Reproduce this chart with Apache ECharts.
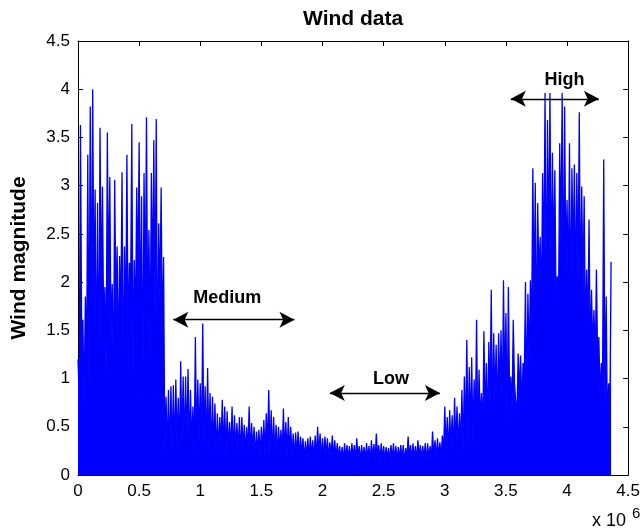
<!DOCTYPE html>
<html>
<head>
<meta charset="utf-8">
<title>Wind data</title>
<script src="https://cdn.jsdelivr.net/npm/echarts@6/dist/echarts.min.js"></script>
<style>
  html, body { margin: 0; padding: 0; background: #fff; }
  #chart { width: 643px; height: 530px; }
</style>
</head>
<body>
<div id="chart"></div>
<script>
// sample spacing along x, in units of 10^6
const STEP = 0.02;

// upper envelope of the wind signal, one value per STEP (rows of 0.1 x 10^6)
const peaks = [
  1.20, 3.63, 1.61, 1.85, 3.32,
  3.82, 4.00, 2.96, 2.82, 3.60,
  2.99, 1.95, 3.55, 3.09, 1.98,
  3.06, 2.37, 2.27, 3.14, 2.37,
  3.32, 2.20, 3.64, 2.23, 2.98,
  3.45, 2.89, 3.13, 3.71, 2.54,
  3.13, 3.47, 3.69, 2.61, 2.98,
  2.26, 0.81, 0.88, 0.92, 0.93,
  0.99, 0.80, 1.18, 1.02, 1.02,
  1.10, 0.88, 0.71, 1.43, 0.99,
  0.95, 1.57, 0.92, 1.11, 0.85,
  0.81, 0.74, 0.64, 0.60, 0.78,
  0.71, 0.66, 0.55, 0.71, 0.62,
  0.54, 0.60, 0.60, 0.52, 0.50,
  0.71, 0.54, 0.50, 0.45, 0.47,
  0.50, 0.57, 0.64, 0.88, 0.67,
  0.60, 0.52, 0.50, 0.47, 0.69,
  0.55, 0.60, 0.50, 0.43, 0.44,
  0.45, 0.40, 0.38, 0.35, 0.38,
  0.40, 0.36, 0.41, 0.50, 0.43,
  0.38, 0.40, 0.38, 0.34, 0.41,
  0.36, 0.33, 0.30, 0.29, 0.33,
  0.31, 0.30, 0.33, 0.31, 0.38,
  0.30, 0.31, 0.29, 0.33, 0.30,
  0.36, 0.32, 0.43, 0.31, 0.33,
  0.30, 0.29, 0.28, 0.31, 0.33,
  0.30, 0.29, 0.31, 0.31, 0.28,
  0.40, 0.31, 0.33, 0.30, 0.36,
  0.31, 0.30, 0.33, 0.33, 0.30,
  0.45, 0.36, 0.38, 0.34, 0.41,
  0.71, 0.60, 0.67, 0.62, 0.80,
  0.71, 0.64, 0.88, 1.02, 1.40,
  1.12, 1.22, 0.99, 1.61, 1.09,
  0.85, 1.49, 1.16, 1.38, 1.92,
  1.47, 1.35, 1.47, 1.50, 2.02,
  1.68, 1.95, 1.02, 1.61, 0.95,
  1.26, 1.24, 1.16, 2.00, 1.88,
  2.02, 3.18, 3.03, 2.82, 2.47,
  3.13, 3.96, 3.68, 3.96, 3.34,
  3.16, 2.06, 3.44, 3.96, 3.82,
  2.85, 3.44, 3.18, 3.22, 3.13,
  3.76, 2.99, 2.89, 2.13, 2.65,
  1.92, 1.71, 2.13, 1.43, 1.16,
  3.27, 1.85, 0.95, 2.21
];

// top of the solid core between two peaks, one value per STEP (same rows)
const troughs = [
  0.80, 1.50, 0.70, 1.10, 0.90,
  1.40, 1.80, 0.90, 0.70, 1.80,
  1.50, 1.00, 1.90, 1.40, 0.90,
  1.70, 1.10, 1.60, 0.80, 1.50,
  1.30, 1.80, 1.00, 1.50, 2.00,
  1.40, 0.70, 1.70, 1.50, 1.20,
  1.90, 1.60, 0.80, 1.80, 1.40,
  0.20, 0.22, 0.18, 0.25, 0.20,
  0.28, 0.20, 0.30, 0.25, 0.32,
  0.22, 0.30, 0.18, 0.28, 0.35,
  0.25, 0.30, 0.22, 0.28, 0.20,
  0.26, 0.18, 0.24, 0.30, 0.22,
  0.20, 0.26, 0.22, 0.18, 0.25,
  0.22, 0.18, 0.25, 0.20, 0.23,
  0.20, 0.24, 0.18, 0.22, 0.19,
  0.24, 0.20, 0.27, 0.22, 0.18,
  0.21, 0.18, 0.24, 0.20, 0.22,
  0.18, 0.22, 0.19, 0.16, 0.20,
  0.17, 0.20, 0.15, 0.18, 0.16,
  0.19, 0.15, 0.18, 0.20, 0.16,
  0.18, 0.20, 0.16, 0.19, 0.17,
  0.15, 0.18, 0.16, 0.14, 0.17,
  0.16, 0.14, 0.17, 0.15, 0.18,
  0.14, 0.16, 0.15, 0.17, 0.14,
  0.17, 0.15, 0.18, 0.14, 0.16,
  0.15, 0.17, 0.14, 0.16, 0.15,
  0.14, 0.16, 0.15, 0.13, 0.16,
  0.17, 0.14, 0.16, 0.15, 0.18,
  0.15, 0.17, 0.14, 0.16, 0.15,
  0.18, 0.16, 0.19, 0.17, 0.22,
  0.25, 0.20, 0.28, 0.22, 0.30,
  0.26, 0.32, 0.24, 0.38, 0.30,
  0.45, 0.35, 0.50, 0.30, 0.55,
  0.40, 0.60, 0.45, 0.70, 0.50,
  0.75, 0.55, 0.85, 0.60, 0.90,
  0.50, 0.80, 0.65, 0.95, 0.60,
  0.85, 0.70, 1.00, 0.75, 1.10,
  1.50, 1.80, 1.30, 2.00, 1.70,
  2.10, 1.60, 2.30, 1.90, 2.20,
  1.80, 1.70, 2.40, 1.70, 2.10,
  1.90, 1.60, 2.20, 1.80, 2.00,
  1.70, 1.90, 1.40, 1.50, 1.20,
  1.30, 1.10, 1.20, 0.80, 0.90,
  0.70, 0.50, 0.60, 0.40
];

// annotations: double arrows with a label above
const annoNames = ['Medium', 'Low', 'High'];
const annoFrom  = [0.78, 2.06, 3.54];
const annoTo    = [1.77, 2.96, 4.26];
const annoY     = [1.61, 0.85, 3.90];
const annoTextX = [1.22, 2.56, 3.98];
const annoTextY = [1.83, 1.00, 4.10];

const xTicks = { min: 0, max: 4.5, interval: 0.5 };
const yTicks = { min: 0, max: 4.5, interval: 0.5 };

const FONT = '"Liberation Sans", Arial, Helvetica, sans-serif';

const signal = [];
peaks.forEach((v, i) => {
  const x = i * STEP;
  signal.push([x, v]);
  if (i < peaks.length - 1) {
    signal.push([x + STEP / 2, troughs[i]]);
  }
});

const chart = echarts.init(document.getElementById('chart'), null, { renderer: 'canvas' });

function axisBase(extra) {
  return Object.assign({
    type: 'value',
    axisLine: { show: true, onZero: false, lineStyle: { color: '#000', width: 1 } },
    axisTick: { show: true, inside: true, length: 5, lineStyle: { color: '#000' } },
    axisLabel: { color: '#000', fontSize: 17, fontFamily: FONT, margin: 8 },
    splitLine: { show: false }
  }, extra);
}

const baseGraphics = [
  { id: 'x10', type: 'text', left: 592, top: 512, style: { text: 'x 10', fontSize: 18, fontFamily: FONT, fill: '#000' } },
  { id: 'x10exp', type: 'text', left: 632, top: 506, style: { text: '6', fontSize: 15, fontFamily: FONT, fill: '#000' } }
];

const option = {
  animation: false,
  backgroundColor: '#fff',
  title: {
    text: 'Wind data',
    left: 303,
    top: 9,
    padding: 0,
    textStyle: { fontSize: 21, fontWeight: 'bold', color: '#000', fontFamily: FONT }
  },
  grid: { left: 78, right: 14, top: 41, bottom: 55 },
  xAxis: [
    axisBase(Object.assign({ position: 'bottom' }, xTicks)),
    axisBase(Object.assign({ position: 'top', axisLabel: { show: false } }, xTicks))
  ],
  yAxis: [
    axisBase(Object.assign({
      position: 'left',
      name: 'Wind magnitude',
      nameLocation: 'middle',
      nameGap: 48,
      nameTextStyle: { fontSize: 21, fontWeight: 'bold', color: '#000', fontFamily: FONT }
    }, yTicks)),
    axisBase(Object.assign({ position: 'right', axisLabel: { show: false } }, yTicks))
  ],
  graphic: baseGraphics,
  series: [
    {
      name: 'Wind',
      type: 'line',
      data: signal,
      showSymbol: false,
      symbol: 'none',
      sampling: null,
      lineStyle: { color: '#0000ff', width: 1.3 },
      areaStyle: { color: '#0000ff', opacity: 1 },
      silent: true,
      markLine: {
        silent: true,
        animation: false,
        symbol: ['arrow', 'arrow'],
        symbolSize: [12, 15],
        lineStyle: { color: '#000', width: 1.3, type: 'solid' },
        label: { show: false },
        data: annoNames.map((n, i) => [
          { coord: [annoFrom[i], annoY[i]] },
          { coord: [annoTo[i], annoY[i]] }
        ])
      }
    }
  ]
};

chart.setOption(option);

// annotation words, placed through the grid's own scales
const labelGraphics = annoNames.map((n, i) => {
  const p = chart.convertToPixel({ gridIndex: 0 }, [annoTextX[i], annoTextY[i]]);
  return {
    id: 'anno' + i,
    type: 'text',
    x: p[0],
    y: p[1],
    style: {
      text: n,
      fontSize: 18,
      fontWeight: 'bold',
      fontFamily: FONT,
      fill: '#000',
      align: 'center',
      verticalAlign: 'middle'
    }
  };
});
chart.setOption({ graphic: baseGraphics.concat(labelGraphics) });
</script>
</body>
</html>
